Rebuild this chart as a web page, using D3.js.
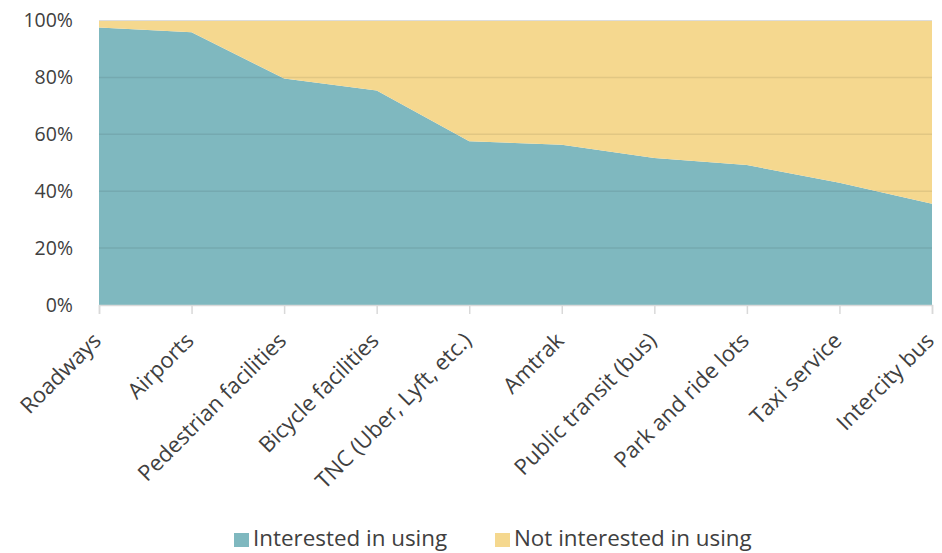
<!DOCTYPE html>
<html>
<head>
<meta charset="utf-8">
<script src="https://cdn.jsdelivr.net/npm/d3@7"></script>
<style>
  html, body { margin: 0; padding: 0; background: #ffffff; }
  svg { display: block; font-family: "Open Sans", "Noto Sans", sans-serif; }
</style>
</head>
<body>
<svg id="chart" width="942" height="553"></svg>
<script>
// Share of respondents interested in using each facility type (percent)
const categories = [
  "Roadways", "Airports", "Pedestrian facilities", "Bicycle facilities",
  "TNC (Uber, Lyft, etc.)", "Amtrak", "Public transit (bus)",
  "Park and ride lots", "Taxi service", "Intercity bus"
];
const interested    = [97.5, 95.9, 79.6, 75.4, 57.6, 56.3, 51.7, 49.2, 43.0, 35.6];
const notInterested = [2.5, 4.1, 20.4, 24.6, 42.4, 43.7, 48.3, 50.8, 57.0, 64.4];
const seriesNames = ["Interested in using", "Not interested in using"];
const seriesColors = ["#7fb8bf", "#f5d88f"];
const yTicks = [0, 20, 40, 60, 80, 100];

const svg = d3.select("#chart");
const margin = { left: 99, top: 20.5 };
const plotW = 932 - margin.left;
const plotH = 305 - margin.top;

const g = svg.append("g").attr("transform", `translate(${margin.left},${margin.top})`);

const x = d3.scalePoint().domain(categories).range([0, plotW]);
const y = d3.scaleLinear().domain([0, 100]).range([plotH, 0]);

const rows = categories.map((c, i) => ({ cat: c, a: interested[i], b: notInterested[i] }));
const layers = d3.stack().keys(["a", "b"])(rows);

const area = d3.area()
  .x(d => x(d.data.cat))
  .y0(d => y(d[0]))
  .y1(d => y(d[1]));

g.selectAll("path.layer")
  .data(layers)
  .join("path")
  .attr("class", "layer")
  .attr("d", area)
  .attr("fill", (d, i) => seriesColors[i]);

// Horizontal gridlines drawn over the areas
g.selectAll("line.grid")
  .data(yTicks.filter(t => t > 0 && t < 100))
  .join("line")
  .attr("class", "grid")
  .attr("x1", 0).attr("x2", plotW)
  .attr("y1", d => y(d)).attr("y2", d => y(d))
  .attr("stroke", "rgba(0,0,0,0.08)")
  .attr("stroke-width", 1.5);

// Top border
g.append("line")
  .attr("x1", 0).attr("x2", plotW)
  .attr("y1", y(100)).attr("y2", y(100))
  .attr("stroke", "#dcdcdc").attr("stroke-width", 1.2);

// Y axis labels
const yAxis = d3.axisLeft(y).tickValues(yTicks).tickFormat(d => d + "%").tickSize(0).tickPadding(26);
const ya = g.append("g").call(yAxis);
ya.select(".domain").remove();
ya.selectAll("text")
  .attr("font-size", 19.5)
  .attr("fill", "#404040")
  .attr("font-family", "'Open Sans', 'Noto Sans', sans-serif");

// X axis with rotated category labels
const xAxis = d3.axisBottom(x).tickSize(9).tickPadding(0);
const xa = g.append("g").attr("transform", `translate(0,${plotH})`).call(xAxis);
xa.select(".domain").attr("stroke", "#d9d9d9").attr("stroke-width", 1.5);
xa.selectAll(".tick line").attr("stroke", "#d9d9d9").attr("stroke-width", 1.5);
xa.selectAll("text")
  .attr("font-size", 22)
  .attr("fill", "#404040")
  .attr("font-family", "'Open Sans', 'Noto Sans', sans-serif")
  .attr("text-anchor", "end")
  .attr("dy", null)
  .attr("y", 0).attr("x", 0)
  .attr("transform", "translate(3,37) rotate(-45)");

// Legend
const legend = svg.append("g").attr("transform", "translate(0,546)");
const legendItems = [
  { name: seriesNames[0], color: seriesColors[0], x: 234 },
  { name: seriesNames[1], color: seriesColors[1], x: 495 }
];
legendItems.forEach(it => {
  legend.append("rect")
    .attr("x", it.x).attr("y", -13)
    .attr("width", 15).attr("height", 14)
    .attr("fill", it.color);
  legend.append("text")
    .attr("x", it.x + 19).attr("y", 0)
    .attr("font-size", 22.4)
    .attr("fill", "#404040")
    .text(it.name);
});
</script>
</body>
</html>
